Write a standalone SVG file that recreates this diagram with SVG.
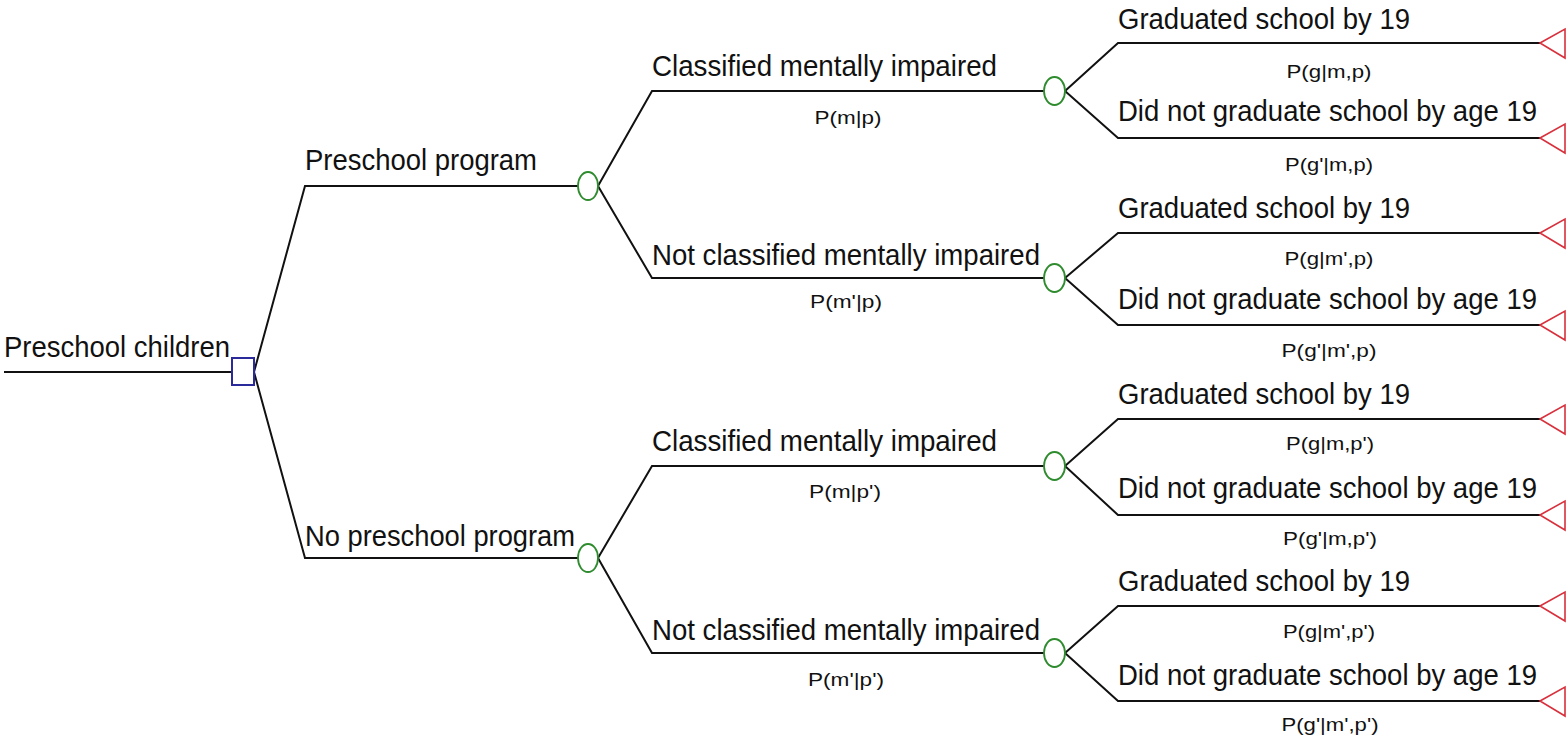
<svg xmlns="http://www.w3.org/2000/svg" width="1566" height="741" viewBox="0 0 1566 741">
<style>
.br{fill:none;stroke:#111;stroke-width:2}
.dec{fill:none;stroke:#2a2a9a;stroke-width:2}
.ch{fill:none;stroke:#2e8b2e;stroke-width:1.8}
.term{fill:none;stroke:#d8303c;stroke-width:1.6}
.lb{font-family:"Liberation Sans",Arial,sans-serif;font-size:29px;fill:#111}
.pb{font-family:"Liberation Sans",Arial,sans-serif;font-size:18px;fill:#111;text-anchor:middle}
</style>
<rect width="1566" height="741" fill="#fff"/>
<g id="connectors">
<path class="br" d="M4 372H232"/>
<path class="br" d="M254 372L305 186H578M254 372L305 558H578"/>
<path class="br" d="M598 186L652 91H1044M598 186L652 278H1044"/>
<path class="br" d="M598 558L652 466H1044M598 558L652 653H1044"/>
<path class="br" d="M1065 91L1118 43H1540M1065 91L1118 138H1540"/>
<path class="br" d="M1065 278L1118 233H1540M1065 278L1118 325H1540"/>
<path class="br" d="M1065 466L1118 419H1540M1065 466L1118 515H1540"/>
<path class="br" d="M1065 653L1118 606H1540M1065 653L1118 701H1540"/>
</g>
<g id="labels">
<text class="lb" x="4" y="357" textLength="226" lengthAdjust="spacingAndGlyphs">Preschool children</text>
<text class="lb" x="305" y="170" textLength="232" lengthAdjust="spacingAndGlyphs">Preschool program</text>
<text class="lb" x="305" y="546" textLength="270" lengthAdjust="spacingAndGlyphs">No preschool program</text>
<text class="lb" x="652" y="76" textLength="345" lengthAdjust="spacingAndGlyphs">Classified mentally impaired</text>
<text class="lb" x="652" y="265" textLength="388" lengthAdjust="spacingAndGlyphs">Not classified mentally impaired</text>
<text class="lb" x="652" y="451" textLength="345" lengthAdjust="spacingAndGlyphs">Classified mentally impaired</text>
<text class="lb" x="652" y="640" textLength="388" lengthAdjust="spacingAndGlyphs">Not classified mentally impaired</text>
<text class="lb" x="1118" y="29" textLength="292" lengthAdjust="spacingAndGlyphs">Graduated school by 19</text>
<text class="lb" x="1118" y="121" textLength="419" lengthAdjust="spacingAndGlyphs">Did not graduate school by age 19</text>
<text class="lb" x="1118" y="218" textLength="292" lengthAdjust="spacingAndGlyphs">Graduated school by 19</text>
<text class="lb" x="1118" y="309" textLength="419" lengthAdjust="spacingAndGlyphs">Did not graduate school by age 19</text>
<text class="lb" x="1118" y="404" textLength="292" lengthAdjust="spacingAndGlyphs">Graduated school by 19</text>
<text class="lb" x="1118" y="498" textLength="419" lengthAdjust="spacingAndGlyphs">Did not graduate school by age 19</text>
<text class="lb" x="1118" y="591" textLength="292" lengthAdjust="spacingAndGlyphs">Graduated school by 19</text>
<text class="lb" x="1118" y="685" textLength="419" lengthAdjust="spacingAndGlyphs">Did not graduate school by age 19</text>
<text class="pb" x="848" y="124" textLength="67" lengthAdjust="spacingAndGlyphs">P(m|p)</text>
<text class="pb" x="846" y="308" textLength="72" lengthAdjust="spacingAndGlyphs">P(m'|p)</text>
<text class="pb" x="845" y="498" textLength="72" lengthAdjust="spacingAndGlyphs">P(m|p')</text>
<text class="pb" x="846" y="686" textLength="76" lengthAdjust="spacingAndGlyphs">P(m'|p')</text>
<text class="pb" x="1329" y="78" textLength="85" lengthAdjust="spacingAndGlyphs">P(g|m,p)</text>
<text class="pb" x="1329" y="171" textLength="88" lengthAdjust="spacingAndGlyphs">P(g'|m,p)</text>
<text class="pb" x="1329" y="265" textLength="89" lengthAdjust="spacingAndGlyphs">P(g|m',p)</text>
<text class="pb" x="1329" y="357" textLength="95" lengthAdjust="spacingAndGlyphs">P(g'|m',p)</text>
<text class="pb" x="1330" y="450" textLength="88" lengthAdjust="spacingAndGlyphs">P(g|m,p')</text>
<text class="pb" x="1330" y="545" textLength="94" lengthAdjust="spacingAndGlyphs">P(g'|m,p')</text>
<text class="pb" x="1329" y="638" textLength="92" lengthAdjust="spacingAndGlyphs">P(g|m',p')</text>
<text class="pb" x="1330" y="731" textLength="97" lengthAdjust="spacingAndGlyphs">P(g'|m',p')</text>
</g>
<g id="n-root"><rect class="dec" x="232" y="358" width="22" height="27"/></g>
<g id="n-c1"><ellipse class="ch" cx="588" cy="186" rx="10" ry="14"/></g>
<g id="n-c2"><ellipse class="ch" cx="588" cy="558" rx="10" ry="14"/></g>
<g id="n-c11"><ellipse class="ch" cx="1054.5" cy="91" rx="10.5" ry="14"/></g>
<g id="n-c12"><ellipse class="ch" cx="1054.5" cy="278" rx="10.5" ry="14"/></g>
<g id="n-c21"><ellipse class="ch" cx="1054.5" cy="466" rx="10.5" ry="14"/></g>
<g id="n-c22"><ellipse class="ch" cx="1054.5" cy="653" rx="10.5" ry="14"/></g>
<g id="n-t1"><path class="term" d="M1540 43L1565 29V58Z"/></g>
<g id="n-t2"><path class="term" d="M1540 138L1565 124V153Z"/></g>
<g id="n-t3"><path class="term" d="M1540 233L1565 219V248Z"/></g>
<g id="n-t4"><path class="term" d="M1540 325L1565 311V340Z"/></g>
<g id="n-t5"><path class="term" d="M1540 419L1565 405V434Z"/></g>
<g id="n-t6"><path class="term" d="M1540 515L1565 501V530Z"/></g>
<g id="n-t7"><path class="term" d="M1540 606L1565 592V621Z"/></g>
<g id="n-t8"><path class="term" d="M1540 701L1565 687V716Z"/></g>
</svg>
